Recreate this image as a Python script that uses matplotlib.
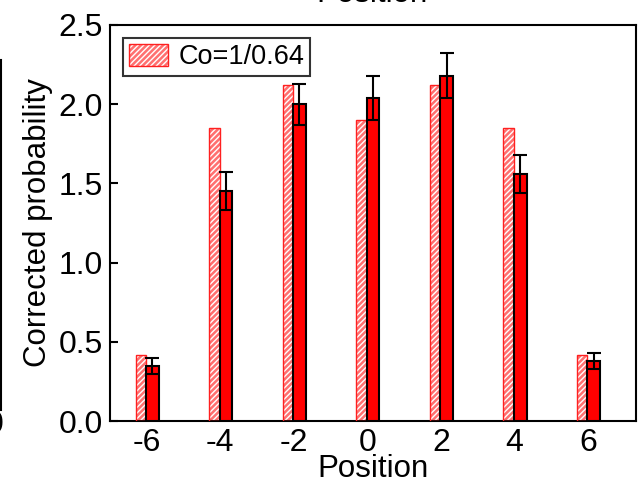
import numpy as np
import matplotlib.pyplot as plt
from matplotlib.patches import Patch
from matplotlib.legend_handler import HandlerTuple
from matplotlib.lines import Line2D

plt.rcParams['font.family'] = ['Liberation Sans', 'DejaVu Sans']

# positions and corrected probabilities
posicion = [-6, -4, -2, 0, 2, 4, 6]
teoria = [0.42, 1.85, 2.12, 1.90, 2.12, 1.85, 0.42]
medida = [0.35, 1.45, 2.00, 2.04, 2.18, 1.56, 0.38]
error = [0.05, 0.12, 0.13, 0.14, 0.14, 0.12, 0.05]

x = np.array(posicion, dtype=float)

fig = plt.figure(figsize=(6.39, 4.88), dpi=100)
ax = fig.add_axes([0.172, 0.137, 0.823, 0.812])

# hatched theory bars (fill + white hatch, then red outline)
ax.bar(x - 0.3, teoria, 0.28, align='edge', facecolor='#ff7070',
       edgecolor='white', hatch='//////', linewidth=0, zorder=2)
ax.bar(x - 0.3, teoria, 0.28, align='edge', facecolor='none',
       edgecolor='#ff2020', linewidth=1.0, zorder=3)

# measured bars with error bars
ax.bar(x - 0.02, medida, 0.35, align='edge', color='#ff0000',
       edgecolor='black', linewidth=1.5, zorder=4)
ax.errorbar(x - 0.02 + 0.175, medida, yerr=error, fmt='none', ecolor='black',
            elinewidth=1.5, capsize=5, capthick=1.5, zorder=5)

ax.set_xlim(-7, 7.3)
ax.set_ylim(0, 2.5)
ax.set_xticks(posicion)
ax.set_xticklabels([str(p) for p in posicion])
ax.set_yticks([0.0, 0.5, 1.0, 1.5, 2.0, 2.5])
ax.set_yticklabels(['0.0', '0.5', '1.0', '1.5', '2.0', '2.5'])
ax.tick_params(axis='both', direction='in', labelsize=23, width=1.5, length=6, pad=5)
ax.tick_params(axis='x', length=0, pad=5)
for s in ax.spines.values():
    s.set_linewidth(1.5)

ax.set_xlabel('Position', fontsize=22.5, labelpad=-3)
ax.set_ylabel('Corrected probability', fontsize=22.5, labelpad=4)

h1 = Patch(facecolor='#ff7070', edgecolor='white', hatch='//////', linewidth=0)
h2 = Patch(facecolor='none', edgecolor='#ff2020', linewidth=1.0)
leg = ax.legend([(h1, h2)], ['Co=1/0.64'], handler_map={tuple: HandlerTuple(ndivide=1)},
                loc='upper left', fontsize=19.5, frameon=True, fancybox=False,
                edgecolor='black', handlelength=1.45, handleheight=0.9,
                handletextpad=0.4, borderpad=0.2, borderaxespad=0.5)
leg.get_frame().set_linewidth(1.5)

# leftovers of neighbouring panels
fig.text(0.582, 0.982, 'Position', fontsize=22.5, ha='center', va='bottom')
fig.add_artist(Line2D([0.002, 0.002], [1 - 60 / 488, 1 - 410 / 488],
                      transform=fig.transFigure, color='black', linewidth=1.5))
fig.text(-0.008, 1 - 425 / 488, '0', fontsize=23, ha='center', va='center')

fig.savefig('out.png', dpi=100)
